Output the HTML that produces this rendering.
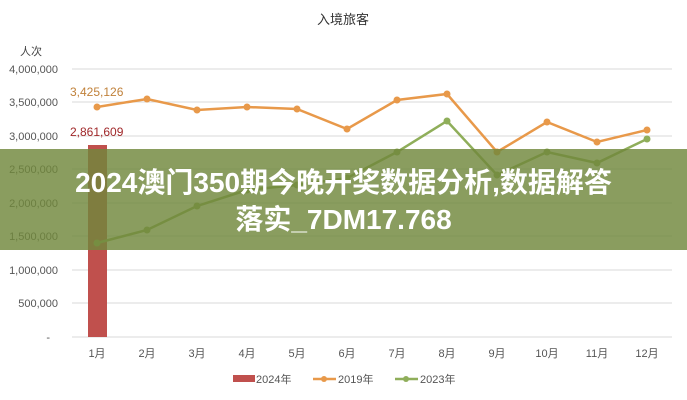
<!DOCTYPE html>
<html><head><meta charset="utf-8"><style>
body{margin:0;background:#fff;}
svg text{font-family:"Liberation Sans","Noto Sans CJK SC",sans-serif;}
.ban{position:absolute;left:0;top:149px;width:687px;height:101px;background:rgba(112,135,60,0.82);color:#fff;font-family:"Liberation Sans","Noto Sans CJK SC",sans-serif;font-weight:bold;font-size:28px;text-align:center;line-height:37px;padding-top:15px;box-sizing:border-box;white-space:nowrap;}
</style></head><body>
<div style="position:relative;width:687px;height:400px;overflow:hidden">
<svg width="687" height="400" xmlns="http://www.w3.org/2000/svg">
<text x="343" y="24" font-size="13" text-anchor="middle" fill="#333">入境旅客</text>
<text x="31" y="55" font-size="11" text-anchor="middle" fill="#444">人次</text>
<g stroke="#d9d9d9" stroke-width="1">
<line x1="72" x2="672" y1="69" y2="69"/><line x1="72" x2="672" y1="102" y2="102"/><line x1="72" x2="672" y1="136" y2="136"/><line x1="72" x2="672" y1="169" y2="169"/><line x1="72" x2="672" y1="203" y2="203"/><line x1="72" x2="672" y1="236" y2="236"/><line x1="72" x2="672" y1="270" y2="270"/><line x1="72" x2="672" y1="303" y2="303"/><line x1="72" x2="672" y1="337" y2="337"/>
</g>
<g font-size="11" fill="#555" text-anchor="end">
<text x="58" y="73">4,000,000</text><text x="58" y="106">3,500,000</text><text x="58" y="140">3,000,000</text><text x="58" y="173">2,500,000</text><text x="58" y="207">2,000,000</text><text x="58" y="240">1,500,000</text><text x="58" y="274">1,000,000</text><text x="58" y="307">500,000</text><text x="50" y="341">-</text>
</g>
<rect x="88" y="145" width="19" height="192" fill="#c0504d"/>
<polyline fill="none" stroke="#e8994a" stroke-width="2.5" points="97,107 147,99 197,110 247,107 297,109 347,129 397,100 447,94 497,152 547,122 597,142 647,130"/>
<g fill="#e8994a"><circle cx="97" cy="107" r="3.5"/><circle cx="147" cy="99" r="3.5"/><circle cx="197" cy="110" r="3.5"/><circle cx="247" cy="107" r="3.5"/><circle cx="297" cy="109" r="3.5"/><circle cx="347" cy="129" r="3.5"/><circle cx="397" cy="100" r="3.5"/><circle cx="447" cy="94" r="3.5"/><circle cx="497" cy="152" r="3.5"/><circle cx="547" cy="122" r="3.5"/><circle cx="597" cy="142" r="3.5"/><circle cx="647" cy="130" r="3.5"/></g>
<polyline fill="none" stroke="#8fae5a" stroke-width="2.5" points="97,243 147,230 197,206 247,190 297,185 347,178 397,152 447,121 497,175 547,152 597,163 647,139"/>
<g fill="#8fae5a"><circle cx="97" cy="243" r="3.5"/><circle cx="147" cy="230" r="3.5"/><circle cx="197" cy="206" r="3.5"/><circle cx="247" cy="190" r="3.5"/><circle cx="297" cy="185" r="3.5"/><circle cx="347" cy="178" r="3.5"/><circle cx="397" cy="152" r="3.5"/><circle cx="447" cy="121" r="3.5"/><circle cx="497" cy="175" r="3.5"/><circle cx="547" cy="152" r="3.5"/><circle cx="597" cy="163" r="3.5"/><circle cx="647" cy="139" r="3.5"/></g>
<text x="70" y="96" font-size="12" fill="#c0813a">3,425,126</text>
<text x="70" y="136" font-size="12" fill="#a0282a">2,861,609</text>
<g font-size="11" fill="#555" text-anchor="middle">
<text x="97" y="357">1月</text><text x="147" y="357">2月</text><text x="197" y="357">3月</text><text x="247" y="357">4月</text><text x="297" y="357">5月</text><text x="347" y="357">6月</text><text x="397" y="357">7月</text><text x="447" y="357">8月</text><text x="497" y="357">9月</text><text x="547" y="357">10月</text><text x="597" y="357">11月</text><text x="647" y="357">12月</text>
</g>
<rect x="233" y="375" width="22" height="7" fill="#c0504d"/>
<text x="256" y="383" font-size="11" fill="#555">2024年</text>
<line x1="313" x2="336" y1="379" y2="379" stroke="#e8994a" stroke-width="2.5"/><circle cx="324" cy="379" r="3" fill="#e8994a"/>
<text x="338" y="383" font-size="11" fill="#555">2019年</text>
<line x1="395" x2="418" y1="379" y2="379" stroke="#8fae5a" stroke-width="2.5"/><circle cx="406" cy="379" r="3" fill="#8fae5a"/>
<text x="420" y="383" font-size="11" fill="#555">2023年</text>
</svg>
<div class="ban">2024澳门350期今晚开奖数据分析,数据解答<br>落实_7DM17.768</div>
</div>
</body></html>
